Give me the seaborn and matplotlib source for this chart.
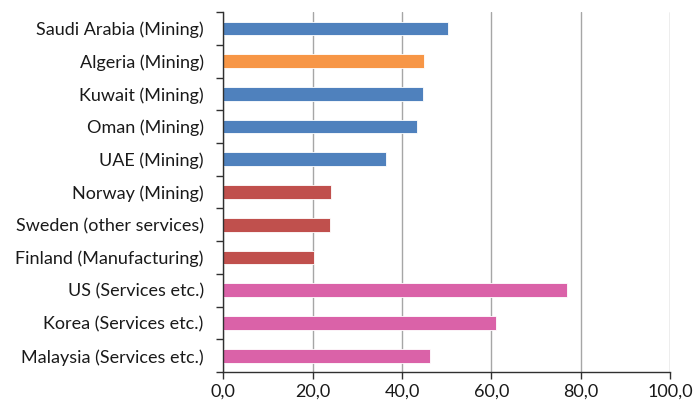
import matplotlib
matplotlib.use("Agg")
import matplotlib.pyplot as plt
from matplotlib.ticker import FixedLocator, FuncFormatter
import seaborn as sns
import pandas as pd

labels = [
    "Saudi Arabia (Mining)",
    "Algeria (Mining)",
    "Kuwait (Mining)",
    "Oman (Mining)",
    "UAE (Mining)",
    "Norway (Mining)",
    "Sweden (other services)",
    "Finland (Manufacturing)",
    "US (Services etc.)",
    "Korea (Services etc.)",
    "Malaysia (Services etc.)",
]
values = [50.4, 44.9, 44.7, 43.4, 36.5, 24.1, 23.8, 20.3, 77.0, 61.1, 46.2]
bar_colors = [
    "#4F81BD", "#F79646", "#4F81BD", "#4F81BD", "#4F81BD",
    "#C0504D", "#C0504D", "#C0504D",
    "#DA62A8", "#DA62A8", "#DA62A8",
]
x_ticks = [0, 20, 40, 60, 80, 100]

df = pd.DataFrame({"label": labels, "value": values})

sns.set_style("white")
plt.rcParams["font.family"] = ["Lato", "DejaVu Sans"]

fig = plt.figure(figsize=(6.93, 4.01), dpi=100)
ax = fig.add_axes([0.322, 0.072, 0.645, 0.898])

sns.barplot(
    data=df, x="value", y="label", hue="label", palette=bar_colors,
    orient="h", width=0.42, legend=False, ax=ax, saturation=1,
    edgecolor="white", linewidth=0.6,
)

ax.set_xlim(0, 100)
ax.set_ylim(len(labels) - 0.5, -0.5)
ax.xaxis.set_major_locator(FixedLocator(x_ticks))
ax.xaxis.set_major_formatter(FuncFormatter(lambda v, p: f"{v:.1f}".replace(".", ",")))
ax.grid(axis="x", color="#a6a6a6", linewidth=1.0)
ax.set_axisbelow(True)

for side in ("top", "right"):
    ax.spines[side].set_visible(False)
for side in ("left", "bottom"):
    ax.spines[side].set_color("#303030")
    ax.spines[side].set_linewidth(1.0)

ax.set_xlabel("")
ax.set_ylabel("")
ax.tick_params(axis="x", which="major", length=5, width=1, color="#303030",
               labelsize=13, pad=3, direction="out", bottom=True, labelcolor="#1a1a1a")
ax.tick_params(axis="y", which="major", length=0, labelsize=13, pad=14,
               labelcolor="#1a1a1a")
ax.yaxis.set_minor_locator(FixedLocator([i - 0.5 for i in range(len(labels) + 1)]))
ax.tick_params(axis="y", which="minor", length=5, width=1, color="#303030",
               direction="out", left=True)

fig.savefig("out.png", dpi=100, facecolor="white")
